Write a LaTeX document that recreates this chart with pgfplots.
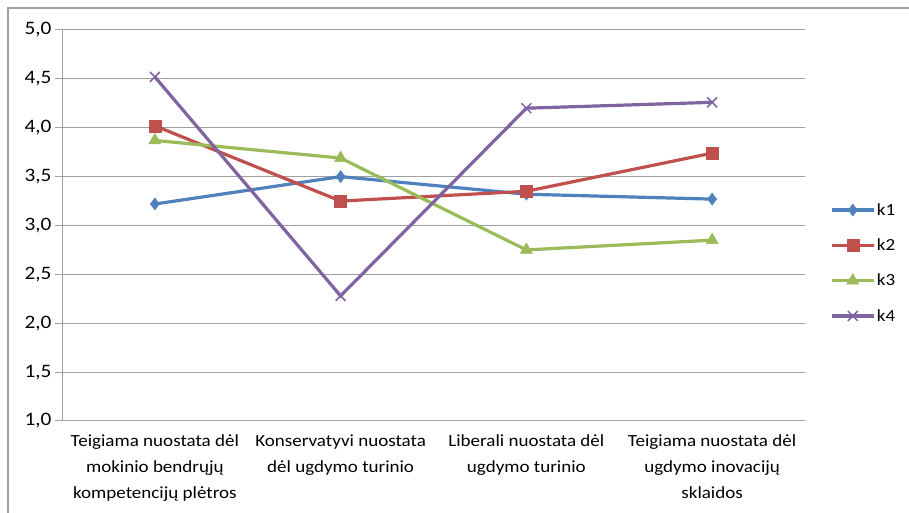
\documentclass[border=0pt]{standalone}
\usepackage{pgfplots}
\pgfplotsset{compat=1.18}
\usepackage{fontspec}
\setmainfont{Carlito}[FakeStretch=1.12]
\definecolor{kblue}{HTML}{4F81BD}
\definecolor{kred}{HTML}{C0504D}
\definecolor{kgreen}{HTML}{9BBB59}
\definecolor{kpurple}{HTML}{8064A2}
\definecolor{gridgray}{HTML}{A0A0A0}
\begin{document}
\begin{tikzpicture}[x=1pt,y=1pt]
\useasboundingbox (0,0) rectangle (909,513);
% outer chart frame (top and left edges)
\draw[gridgray, line width=1.2pt] (909,505) -- (8,505) -- (8,0);
\begin{axis}[
  at={(62pt,92pt)}, anchor=south west,
  scale only axis, width=743pt, height=391pt,
  xmin=-0.5, xmax=3.5, ymin=1, ymax=5,
  ytick={1,1.5,...,5},
  xtick={0,1,2,3},
  xticklabels={{Teigiama nuostata dėl\\mokinio bendrųjų\\kompetencijų plėtros},
               {Konservatyvi nuostata\\dėl ugdymo turinio},
               {Liberali nuostata dėl\\ugdymo turinio},
               {Teigiama nuostata dėl\\ugdymo inovacijų\\sklaidos}},
  x tick label style={align=center, font=\fontsize{17}{26}\selectfont, yshift=-3pt},
  y tick label style={font=\fontsize{19}{22}\selectfont},
  major x tick style={draw=none},
  extra x ticks={-0.5,0.5,1.5,2.5,3.5},
  extra x tick labels={},
  extra x tick style={grid=none, major tick length=6pt, tick style={gridgray, line width=1pt}},
  ymajorgrids, grid style={gridgray, line width=1pt},
  major y tick style={gridgray, line width=1pt},
  tick align=outside, major tick length=7pt,
  axis x line*=bottom, axis y line*=left,
  axis line style={gridgray, line width=1pt, -},
  /pgf/number format/.cd, fixed, fixed zerofill, precision=1, use comma, assume math mode=true,
  /pgfplots/.cd,
  legend style={draw=none, fill=none, at={(768pt,158pt)}, anchor=west, font=\fontsize{17}{20}\selectfont,
    row sep=19pt, inner sep=0pt, nodes={inner sep=1.5pt}},
  legend cell align=left,
  legend image code/.code={\draw[#1] (0pt,0pt) -- (42pt,0pt); \draw[#1, mark repeat=1] plot coordinates {(21pt,0pt)};},
  every axis plot/.append style={line width=3.2pt},
]
\addplot[kblue, mark=diamond*, mark size=6pt, mark options={solid, line width=0.5pt}]
  coordinates {(0,3.22) (1,3.50) (2,3.32) (3,3.27)};
\addlegendentry{k1}
\addplot[kred, mark=square*, mark size=6pt, mark options={solid, line width=0.5pt}]
  coordinates {(0,4.02) (1,3.25) (2,3.35) (3,3.74)};
\addlegendentry{k2}
\addplot[kgreen, mark=triangle*, mark size=7pt, mark options={solid, line width=0.5pt}]
  coordinates {(0,3.87) (1,3.69) (2,2.75) (3,2.85)};
\addlegendentry{k3}
\addplot[kpurple, mark=x, mark size=7pt, mark options={solid, line width=1.5pt}]
  coordinates {(0,4.52) (1,2.28) (2,4.20) (3,4.26)};
\addlegendentry{k4}
\end{axis}
\end{tikzpicture}
\end{document}
